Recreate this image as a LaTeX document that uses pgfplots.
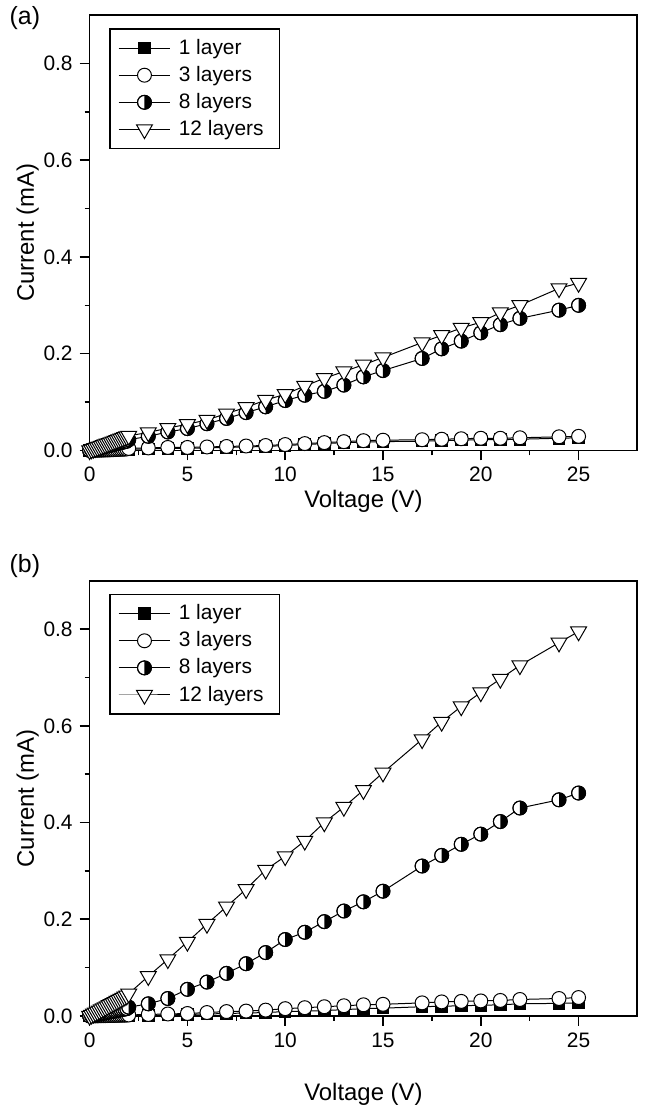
\documentclass[border=0pt]{standalone}
\usepackage{fontspec}
\setmainfont{Liberation Sans}
\usepackage{pgfplots}
\usepackage{pgfplotstable}
\pgfplotsset{compat=1.18}

% circle, right half black
\pgfdeclareplotmark{halfcirc}{%
  \pgfpathcircle{\pgfpointorigin}{\pgfplotmarksize}%
  \pgfsetfillcolor{white}\pgfusepathqfillstroke
  \pgfpathmoveto{\pgfqpoint{0pt}{\pgfplotmarksize}}%
  \pgfpatharc{90}{-90}{\pgfplotmarksize}%
  \pgfpathclose
  \pgfsetfillcolor{black}\pgfusepathqfill
  \pgfpathcircle{\pgfpointorigin}{\pgfplotmarksize}%
  \pgfusepathqstroke
}

% V  1 layer  3 layers  8 layers  12 layers
\pgfplotstableread{
V    L1      L3      L8      L12
0.0  0       0       0       0
0.1  0       0       0.001   0.0015
0.2  0       0       0.002   0.003
0.3  0       0.0002  0.003   0.0045
0.4  0.0001  0.0003  0.004   0.006
0.5  0.0001  0.0004  0.005   0.0075
0.6  0.0002  0.0005  0.006   0.009
0.7  0.0002  0.0006  0.007   0.0105
0.8  0.0003  0.0008  0.008   0.012
0.9  0.0003  0.0009  0.009   0.0135
1.0  0.0004  0.001   0.010   0.015
1.1  0.0005  0.0012  0.011   0.0165
1.2  0.0005  0.0014  0.012   0.018
1.3  0.0006  0.0016  0.013   0.0195
1.4  0.0007  0.0018  0.014   0.021
1.5  0.0008  0.002   0.015   0.0225
1.6  0.0009  0.0022  0.016   0.024
1.7  0.001   0.0024  0.017   0.0255
1.8  0.0011  0.0026  0.018   0.027
1.9  0.0012  0.003   0.019   0.0285
2    0.002   0.004   0.022   0.030
3    0.003   0.005   0.029   0.037
4    0.004   0.006   0.038   0.046
5    0.004   0.006   0.045   0.054
6    0.005   0.007   0.055   0.063
7    0.006   0.008   0.066   0.076
8    0.007   0.009   0.078   0.089
9    0.008   0.010   0.090   0.104
10   0.010   0.012   0.103   0.116
11   0.012   0.014   0.114   0.133
12   0.014   0.016   0.122   0.149
13   0.016   0.018   0.135   0.163
14   0.017   0.020   0.152   0.177
15   0.018   0.021   0.165   0.192
17   0.019   0.022   0.190   0.223
18   0.020   0.023   0.210   0.238
19   0.021   0.024   0.226   0.253
20   0.022   0.025   0.243   0.265
21   0.022   0.025   0.260   0.285
22   0.023   0.026   0.273   0.300
24   0.025   0.028   0.290   0.335
25   0.026   0.029   0.300   0.346
}\dataA

\pgfplotstableread{
V    L1      L3      L8      L12
0.0  0       0       0       0
0.1  0       0       0.0008  0.0022
0.2  0       0       0.0016  0.0044
0.3  0       0.0001  0.0024  0.0066
0.4  0.0001  0.0002  0.0032  0.0088
0.5  0.0001  0.0003  0.004   0.011
0.6  0.0001  0.0004  0.0048  0.0132
0.7  0.0002  0.0005  0.0056  0.0154
0.8  0.0002  0.0006  0.0064  0.0176
0.9  0.0002  0.0007  0.0072  0.0198
1.0  0.0003  0.0008  0.008   0.022
1.1  0.0003  0.0009  0.0088  0.0242
1.2  0.0004  0.001   0.0096  0.0264
1.3  0.0004  0.0011  0.0104  0.0286
1.4  0.0005  0.0012  0.0112  0.0308
1.5  0.0005  0.0013  0.012   0.033
1.6  0.0006  0.0014  0.0128  0.0352
1.7  0.0006  0.0015  0.0136  0.0374
1.8  0.0007  0.0016  0.0144  0.0396
1.9  0.0008  0.0018  0.015   0.0418
2    0.001   0.002   0.018   0.046
3    0.001   0.003   0.025   0.082
4    0.002   0.004   0.036   0.117
5    0.003   0.005   0.055   0.153
6    0.004   0.007   0.070   0.190
7    0.005   0.009   0.088   0.226
8    0.006   0.010   0.108   0.262
9    0.007   0.012   0.131   0.302
10   0.009   0.015   0.158   0.330
11   0.010   0.017   0.173   0.362
12   0.011   0.019   0.195   0.400
13   0.013   0.021   0.217   0.432
14   0.015   0.023   0.236   0.467
15   0.016   0.024   0.258   0.503
17   0.019   0.027   0.310   0.572
18   0.020   0.029   0.332   0.608
19   0.021   0.030   0.355   0.640
20   0.022   0.031   0.376   0.669
21   0.023   0.032   0.402   0.697
22   0.025   0.034   0.430   0.725
24   0.026   0.036   0.447   0.772
25   0.027   0.038   0.461   0.795
}\dataB

\pgfplotsset{
  panel/.style={
    scale only axis, width=275pt, height=218.5pt,
    xmin=0, xmax=28, ymin=0, ymax=0.9,
    xtick={0,5,10,15,20,25}, minor x tick num=1,
    ytick={0,0.2,0.4,0.6,0.8}, minor y tick num=1,
    tick pos=left, tick align=outside,
    major tick length=5pt, minor tick length=2.5pt,
    axis line style={line width=0.8pt}, every tick/.style={line width=0.8pt, black},
    /pgf/number format/assume math mode=true,
    yticklabel style={/pgf/number format/.cd, fixed, fixed zerofill, precision=1},
    tick label style={font=\fontsize{10.5}{12}\selectfont},
    label style={font=\fontsize{12}{14}\selectfont},
    xlabel={Voltage (V)}, ylabel={Current (mA)},
    ylabel style={at={(axis description cs:-0.113,0.5)}, anchor=center},
    legend style={at={(0.036,0.97)}, anchor=north west, draw=black, line width=0.8pt,
      font=\fontsize{10.5}{12}\selectfont, row sep=0.5pt, inner xsep=4pt, inner ysep=3pt,
      nodes={inner xsep=4pt}},
    legend cell align=left,
    legend image code/.code={\draw[mark repeat=2, mark phase=2, line width=0.5pt]
      plot coordinates {(0pt,0pt) (13pt,0pt) (26pt,0pt)};},
    clip=false,
  },
  s1/.style={black, line width=0.5pt, mark=square*, mark size=2.9pt, mark options={solid, fill=black, line width=0.5pt}},
  s3/.style={black, line width=0.5pt, mark=*, mark size=3.5pt, mark options={solid, fill=white, line width=0.5pt}},
  s8/.style={black, line width=0.5pt, mark=halfcirc, mark size=3.5pt, mark options={solid, line width=0.5pt}},
  s12/.style={black, line width=0.5pt, mark=triangle*, mark size=4.6pt, mark options={solid, fill=white, rotate=180, line width=0.5pt}},
}

\begin{document}
\begin{tikzpicture}
\path (-45pt,224.5pt) rectangle (287.5pt,-331.5pt);
\begin{axis}[panel, name=a, at={(0,0)},
  xlabel style={at={(axis description cs:0.5,-0.117)}, anchor=center}]
\addplot[s1] table[x=V, y=L1] {\dataA};
\addlegendentry{1 layer}
\addplot[s3] table[x=V, y=L3] {\dataA};
\addlegendentry{3 layers}
\addplot[s8] table[x=V, y=L8] {\dataA};
\addlegendentry{8 layers}
\addplot[s12] table[x=V, y=L12] {\dataA};
\addlegendentry{12 layers}
\end{axis}
\node[font=\fontsize{12.5}{14}\selectfont] at ([xshift=-32.5pt, yshift=-1.5pt]a.north west) {(a)};

\begin{axis}[panel, name=b, at={(0,-284pt)},
  xlabel style={at={(axis description cs:0.5,-0.18)}, anchor=center}]
\addplot[s1] table[x=V, y=L1] {\dataB};
\addlegendentry{1 layer}
\addplot[s3] table[x=V, y=L3] {\dataB};
\addlegendentry{3 layers}
\addplot[s8] table[x=V, y=L8] {\dataB};
\addlegendentry{8 layers}
\addplot[s12] table[x=V, y=L12] {\dataB};
\addlegendentry{12 layers}
\end{axis}
\node[font=\fontsize{12.5}{14}\selectfont] at ([xshift=-32.5pt, yshift=7.5pt]b.north west) {(b)};
\end{tikzpicture}
\end{document}
